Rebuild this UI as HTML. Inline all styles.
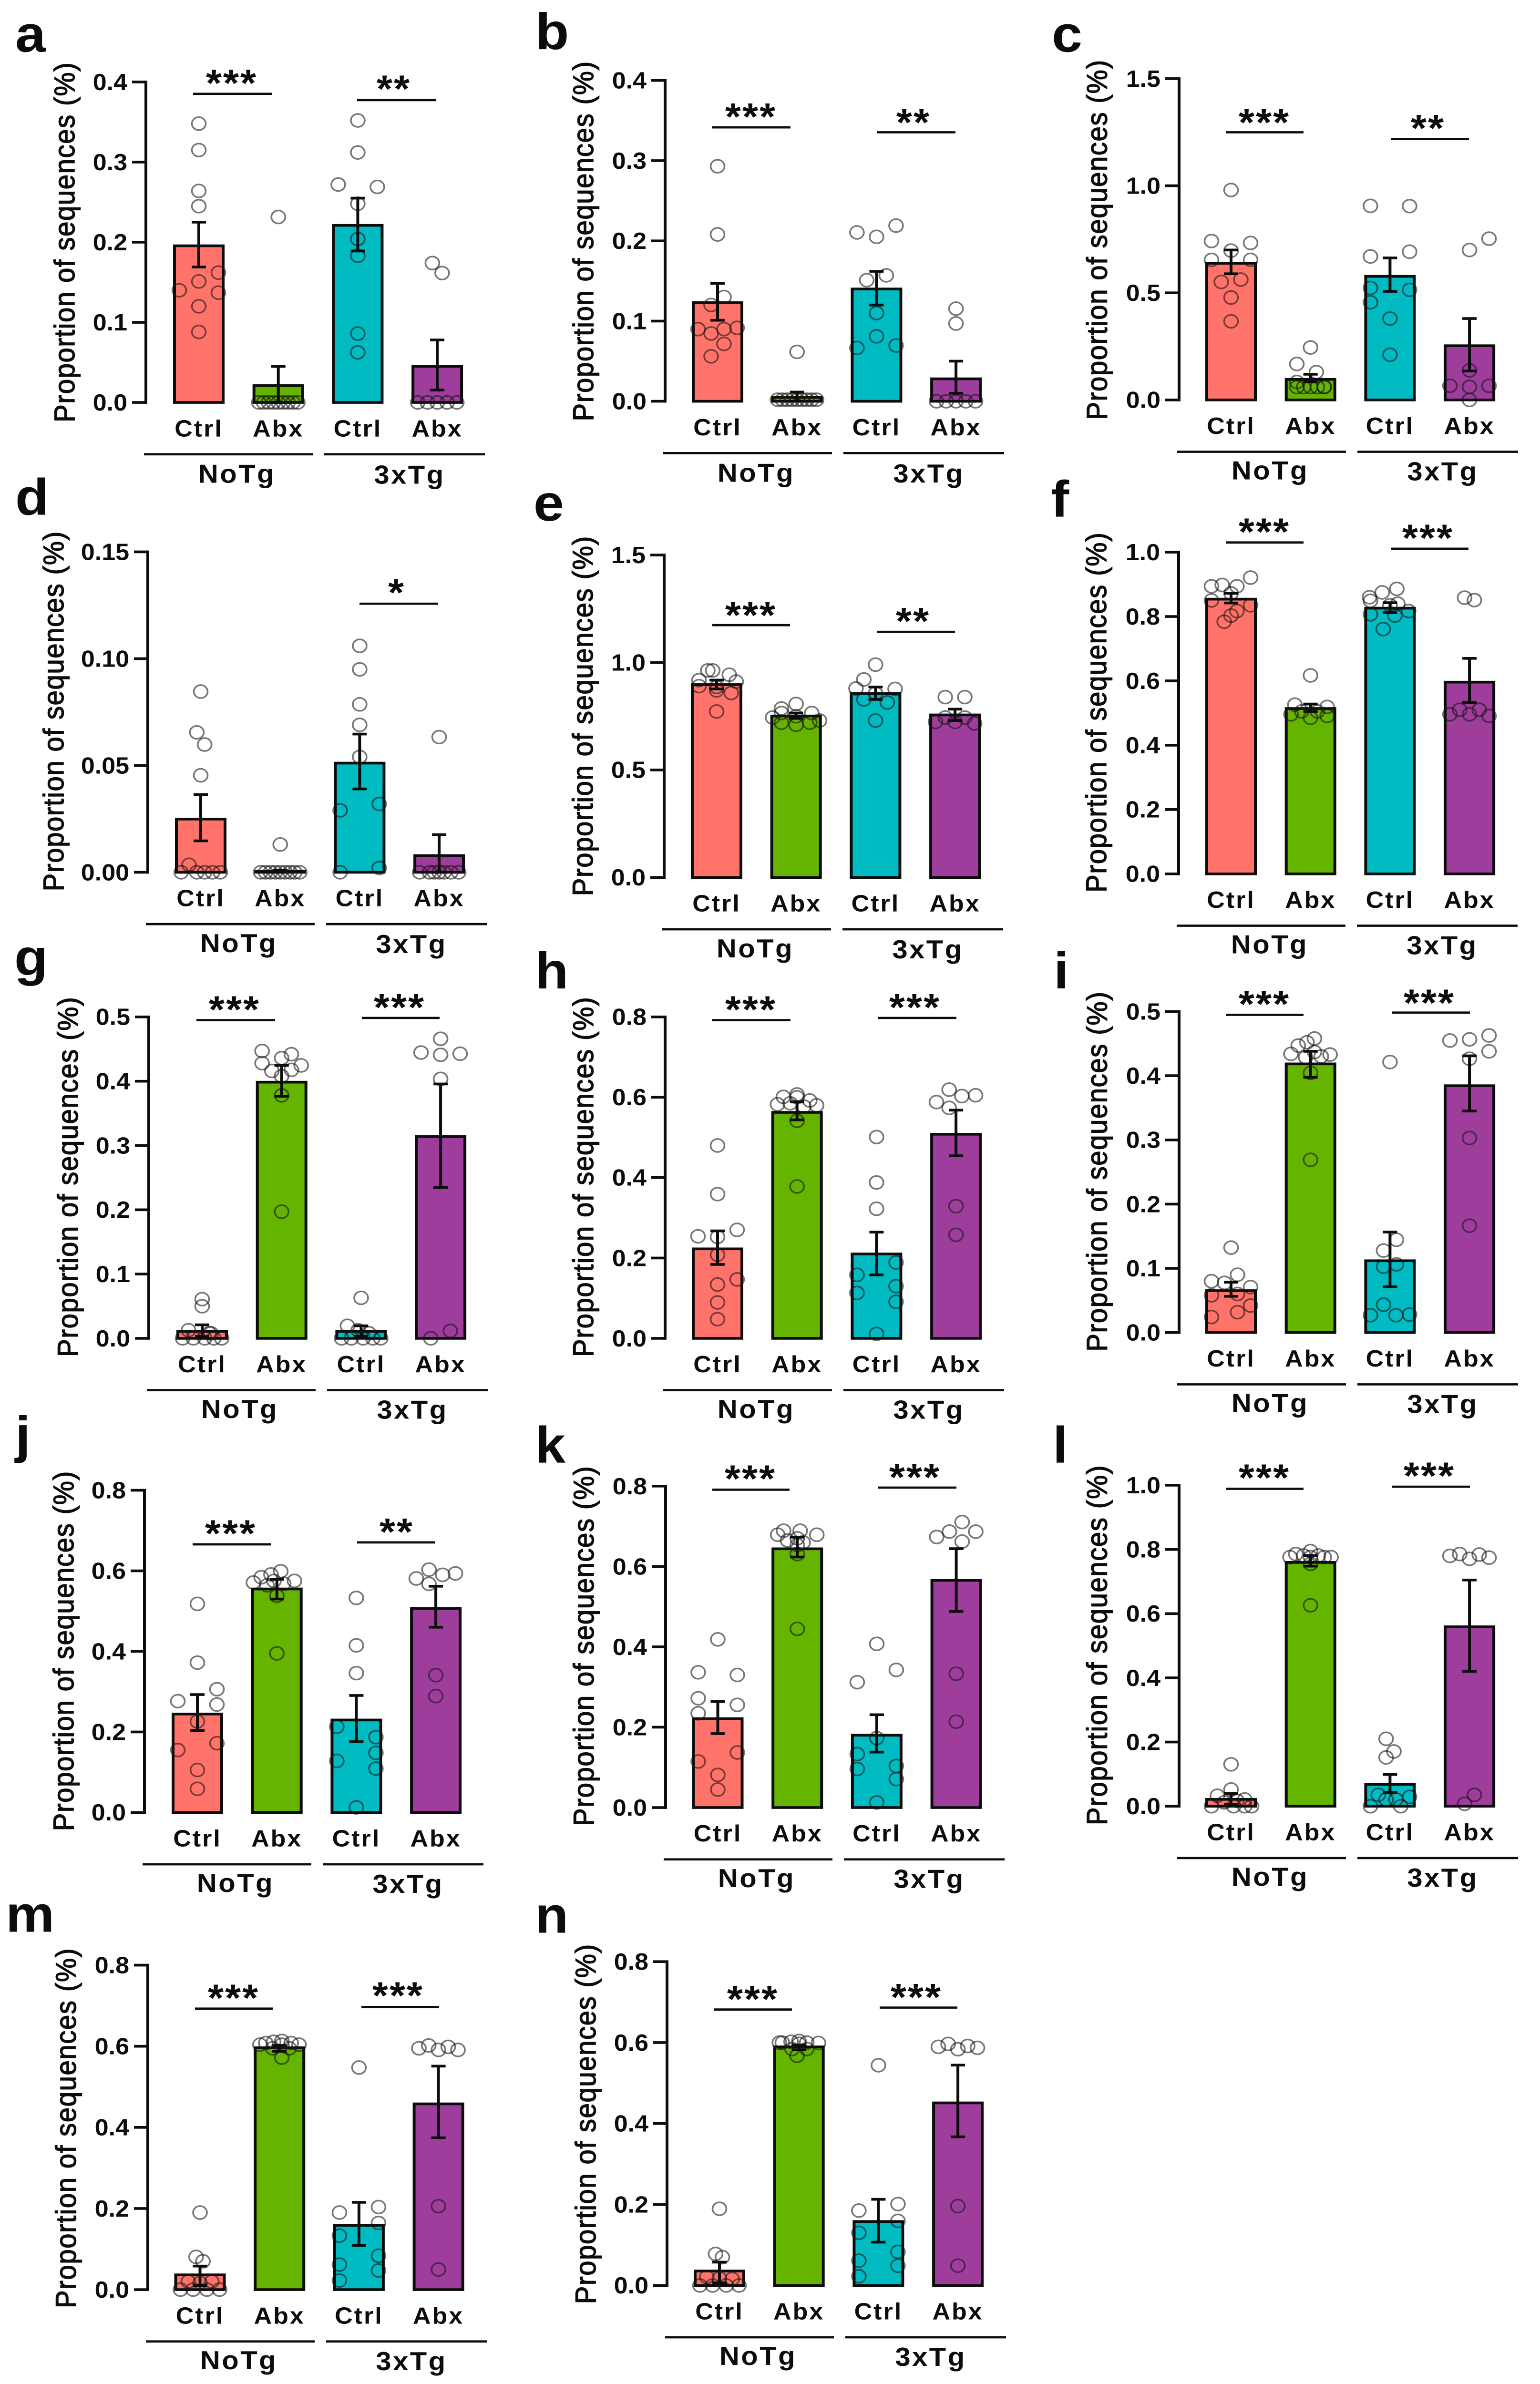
<!DOCTYPE html>
<html lang="en">
<head>
<meta charset="utf-8">
<title>Proportion of sequences by treatment and genotype</title>
<style>
html,body{margin:0;padding:0;background:#fff;width:100%;height:100%;overflow:hidden;}
#figure{display:block;position:fixed;left:0;top:0;width:100vw;height:100vh;}
text{font-family:"Liberation Sans",Arial,sans-serif;fill:#0c0c0c;}
.letter{font-size:115px;font-weight:700;}
.yt{font-size:60px;stroke:#0c0c0c;stroke-width:1.5px;text-anchor:middle;}
.group{font-size:58px;font-weight:700;letter-spacing:3.5px;text-anchor:middle;}
.tick{font-size:52px;font-weight:700;text-anchor:end;}
.cat{font-size:52px;font-weight:700;letter-spacing:3px;text-anchor:middle;}
.star{font-size:85px;font-weight:700;letter-spacing:3px;text-anchor:middle;}
</style>
</head>
<body>
<svg id="figure" xmlns="http://www.w3.org/2000/svg" viewBox="0 0 3230 5335" preserveAspectRatio="none">
<rect width="3230" height="5335" fill="#fff"/>

<text class="letter" x="32" y="116">a</text>
<text class="letter" x="1123" y="110">b</text>
<text class="letter" x="2206" y="116">c</text>
<text class="letter" x="32" y="1152">d</text>
<text class="letter" x="1119" y="1165">e</text>
<text class="letter" x="2204" y="1156">f</text>
<text class="letter" x="30" y="2182">g</text>
<text class="letter" x="1122" y="2212">h</text>
<text class="letter" x="2210" y="2212">i</text>
<text class="letter" x="32" y="3250">j</text>
<text class="letter" x="1122" y="3273">k</text>
<text class="letter" x="2208" y="3273">l</text>
<text class="letter" x="12" y="4323">m</text>
<text class="letter" x="1122" y="4325">n</text>

<g id="panel-a">
<text class="yt" textLength="805" transform="translate(-150,-358) rotate(-90)">Proportion of sequences (%)</text>
<text class="group" x="191" y="180">NoTg</text>
<text class="group" x="553" y="182">3xTg</text>
</g>
<g id="panel-b">
<text class="yt" textLength="805" transform="translate(-151,-358) rotate(-90)">Proportion of sequences (%)</text>
<text class="group" x="191" y="180">NoTg</text>
<text class="group" x="553" y="182">3xTg</text>
</g>
<g id="panel-c">
<text class="yt" textLength="805" transform="translate(-151.5,-358) rotate(-90)">Proportion of sequences (%)</text>
<text class="group" x="191" y="178">NoTg</text>
<text class="group" x="553" y="180">3xTg</text>
</g>
<g id="panel-d">
<text class="yt" textLength="805" transform="translate(-177,-360) rotate(-90)">Proportion of sequences (%)</text>
<text class="group" x="191" y="179">NoTg</text>
<text class="group" x="553" y="181">3xTg</text>
</g>
<g id="panel-e">
<text class="yt" textLength="805" transform="translate(-150,-361) rotate(-90)">Proportion of sequences (%)</text>
<text class="group" x="191" y="179">NoTg</text>
<text class="group" x="553" y="181">3xTg</text>
</g>
<g id="panel-f">
<text class="yt" textLength="805" transform="translate(-152,-361) rotate(-90)">Proportion of sequences (%)</text>
<text class="group" x="191" y="178">NoTg</text>
<text class="group" x="553" y="180">3xTg</text>
</g>
<g id="panel-g">
<text class="yt" textLength="805" transform="translate(-149,-361) rotate(-90)">Proportion of sequences (%)</text>
<text class="group" x="191" y="178">NoTg</text>
<text class="group" x="553" y="180">3xTg</text>
</g>
<g id="panel-h">
<text class="yt" textLength="805" transform="translate(-151,-361) rotate(-90)">Proportion of sequences (%)</text>
<text class="group" x="191" y="178">NoTg</text>
<text class="group" x="553" y="180">3xTg</text>
</g>
<g id="panel-i">
<text class="yt" textLength="805" transform="translate(-151.5,-360) rotate(-90)">Proportion of sequences (%)</text>
<text class="group" x="191" y="178">NoTg</text>
<text class="group" x="553" y="180">3xTg</text>
</g>
<g id="panel-j">
<text class="yt" textLength="805" transform="translate(-149,-361) rotate(-90)">Proportion of sequences (%)</text>
<text class="group" x="191" y="178">NoTg</text>
<text class="group" x="553" y="180">3xTg</text>
</g>
<g id="panel-k">
<text class="yt" textLength="805" transform="translate(-151,-361) rotate(-90)">Proportion of sequences (%)</text>
<text class="group" x="191" y="178">NoTg</text>
<text class="group" x="553" y="180">3xTg</text>
</g>
<g id="panel-l">
<text class="yt" textLength="805" transform="translate(-151.5,-360) rotate(-90)">Proportion of sequences (%)</text>
<text class="group" x="191" y="178">NoTg</text>
<text class="group" x="553" y="180">3xTg</text>
</g>
<g id="panel-m">
<text class="yt" textLength="805" transform="translate(-151,-361) rotate(-90)">Proportion of sequences (%)</text>
<text class="group" x="191" y="178">NoTg</text>
<text class="group" x="553" y="180">3xTg</text>
</g>
<g id="panel-n">
<text class="yt" textLength="805" transform="translate(-150,-361) rotate(-90)">Proportion of sequences (%)</text>
<text class="group" x="191" y="178">NoTg</text>
<text class="group" x="553" y="180">3xTg</text>
</g>
</svg>

<script>
// Shared categories
const categories = ['Ctrl', 'Abx', 'Ctrl', 'Abx'];
const categoryKeys = ['notg-ctrl', 'notg-abx', '3xtg-ctrl', '3xtg-abx'];

// Panel a
const aTicks = ['0.0', '0.1', '0.2', '0.3', '0.4'];
const aMeans = [.1955, .021, .221, .045];
const aHi = [.225, .045, .255, .078];
const aLo = [.169, 0, .189, .0155];
const aNC = [.348, .315, .264, .245, .162, .151, .14, .137, .12, .088];
const aNCx = [0, 0, 0, 0, 1, 0, -1, 1, 0, 0];
const aNA = [.2315, 0, 0, 0, 0, 0, 0, 0, 0, 0];
const aNAx = [0, -1, -.75, -.5, -.25, 0, .25, .5, .75, 1];
const aTC = [.352, .312, .272, .269, .248, .204, .183, .086, .0625];
const aTCx = [0, 0, -1, 1, 0, 0, 0, 0, 0];
const aTA = [.174, .1615, 0, 0, 0, 0, 0];
const aTAx = [-.25, .25, -1, -.5, 0, .5, 1];

// Panel b
const bTicks = ['0.0', '0.1', '0.2', '0.3', '0.4'];
const bMeans = [.123, .005, .14, .028];
const bHi = [.147, .0115, .162, .05];
const bLo = [.101, 0, .12, .01];
const bNC = [.293, .208, .13, .12, .09, .09, .0915, .0845, .0715, .056];
const bNCx = [0, 0, .33, -.33, -1, .33, 1, -.33, .33, -.33];
const bNA = [.0616, .002, .002, .002, .002, .002, .002, .002, .002, .002];
const bNAx = [0, -1, -.75, -.5, -.25, 0, .25, .5, .75, 1];
const bTC = [.219, .2105, .205, .157, .151, .11, .081, .0665, .0695];
const bTCx = [1, -1, 0, .5, -.5, 0, 0, -1, 1];
const bTA = [.1155, .097, 0, 0, 0, 0, 0];
const bTAx = [0, 0, -1, -.5, 0, .5, 1];

// Panel c
const cTicks = ['0.0', '0.5', '1.0', '1.5'];
const cMeans = [.638, .096, .577, .253];
const cHi = [.70, .12, .663, .38];
const cLo = [.589, .085, .507, .135];
const cNC = [.98, .742, .733, .697, .654, .654, .562, .551, .478, .367];
const cNCx = [0, -1, 1, 0, -1, 1, .5, -.5, 0, 0];
const cNA = [.245, .168, .13, .084, .061, .06, .06, .06, .06, .06];
const cNAx = [0, -.7, .3, -.7, .7, -.7, -.35, 0, .35, .7];
const cTC = [.906, .905, .692, .67, .523, .514, .456, .38, .211];
const cTCx = [-1, 1, 1, -1, -1, 1, -1, 0, 0];
const cTA = [.753, .70, .138, .066, .061, .066, 0];
const cTAx = [1, 0, 0, -1, 0, 1, 0];

// Panel d
const dTicks = ['0.00', '0.05', '0.10', '0.15'];
const dMeans = [.0249, .0005, .0511, .0078];
const dHi = [.0364, .001, .0647, .0176];
const dLo = [.0147, 0, .039, 0];
const dNC = [.0846, .0655, .0598, .0454, .0035, 0, 0, 0, 0, 0];
const dNCx = [0, -.2, .2, 0, -.6, -1, -.2, .2, .6, 1];
const dNA = [.013, 0, 0, 0, 0, 0, 0, 0, 0, 0];
const dNAx = [0, -1, -.75, -.5, -.25, 0, .25, .5, .75, 1];
const dTC = [.106, .095, .0786, .069, .054, .032, .029, .002, 0];
const dTCx = [0, 0, 0, 0, 0, 1, -1, 1, -1];
const dTA = [.0633, 0, 0, 0, 0, 0, 0, 0];
const dTAx = [0, -1, -.5, -.25, 0, .25, .6, 1];

// Panel e
const eTicks = ['0.0', '0.5', '1.0', '1.5'];
const eMeans = [.897, .751, .856, .756];
const eHi = [.918, .765, .886, .783];
const eLo = [.877, .74, .828, .73];
const eNC = [.963, .963, .943, .918, .911, .89, .886, .87, .858, .772];
const eNCx = [-.45, -.2, .65, -.9, 1, -.9, 0, 0, .75, 0];
const eNA = [.807, .786, .765, .765, .75, .744, .73, .72, .72, .71];
const eNAx = [0, -.75, .8, -.75, 0, -1.2, 1.2, -.75, .7, 0];
const eTC = [.99, .921, .879, .877, .856, .828, .814, .73];
const eTCx = [0, -.6, -1, 1, 0, -.6, .6, 0];
const eTA = [.839, .839, .744, .744, .7235, .7235, .7166];
const eTAx = [-.5, .5, -.5, .5, -1, 0, 1];

// Panel f
const fTicks = ['0.0', '0.2', '0.4', '0.6', '0.8', '1.0'];
const fMeans = [.854, .514, .826, .596];
const fHi = [.872, .528, .843, .67];
const fLo = [.842, .505, .812, .533];
const fNC = [.921, .898, .894, .894, .872, .85, .835, .817, .803, .784];
const fNCx = [1, -.45, -1, .3, 0, -1, 1, .3, 0, -.35];
const fNA = [.617, .526, .519, .505, .505, .496, .491, .485];
const fNAx = [0, -.8, .85, -.45, .35, -1, .85, 0];
const fTC = [.886, .875, .86, .849, .84, .835, .817, .807, .803, .761];
const fTCx = [.35, -.4, -1.05, -1, .4, 0, .95, -1, .25, -.35];
const fTA = [.8586, .851, .51, .51, .496, .496, .491];
const fTAx = [-.25, .25, -.5, .5, -1, 0, 1];

// Panel g
const gTicks = ['0.0', '0.1', '0.2', '0.3', '0.4', '0.5'];
const gMeans = [.011, .3985, .011, .3138];
const gHi = [.021, .4246, .0195, .3957];
const gLo = [.003, .3766, .003, .2346];
const gNC = [.061, .05, .0126, .008, .008, 0, 0, 0, 0, 0];
const gNCx = [0, 0, -.7, .35, .45, -1, -.45, .13, .6, 1];
const gNA = [.447, .442, .436, .428, .4246, .416, .4176, .408, .378, .197];
const gNAx = [-1, .5, 0, -1, 1, -.5, .5, 0, 0, 0];
const gTC = [.063, .0195, .0126, .008, 0, 0, 0, 0, 0];
const gTCx = [0, -.7, -.15, .4, -1, -.5, .1, .6, 1];
const gTA = [.466, .4446, .441, .4427, .4036, .0116, 0];
const gTAx = [0, -1, 0, 1, 0, .5, -.5];

// Panel h
const hTicks = ['0.0', '0.2', '0.4', '0.6', '0.8'];
const hMeans = [.2227, .5624, .21, .508];
const hHi = [.2674, .5885, .2644, .568];
const hLo = [.184, .5438, .158, .4544];
const hNC = [.48, .359, .27, .254, .2525, .208, .1467, .134, .0894, .0477];
const hNCx = [0, 0, 1, -1, 0, 0, 1, 0, 0, 0];
const hNA = [.607, .601, .6, .592, .5825, .585, .58, .577, .5415, .378];
const hNAx = [0, -.7, 0, .65, -1, -.35, 1, .35, 0, 0];
const hTC = [.501, .388, .3225, .189, .158, .13, .113, .091, .011];
const hTCx = [0, 0, 0, 1, -1, 1, -1, 1, 0];
const hTA = [.619, .605, .603, .588, .5736, .329, .2577];
const hTAx = [-.35, 1, .3, -1, -.35, 0, 0];

// Panel i
const iTicks = ['0.0', '0.1', '0.2', '0.3', '0.4', '0.5'];
const iMeans = [.0652, .4184, .1118, .3844];
const iHi = [.0783, .438, .1566, .431];
const iLo = [.0564, .3975, .0713, .345];
const iNC = [.1323, .09, .08, .0774, .0708, .06, .058, .042, .0317, .0242];
const iNCx = [0, .33, -1, -.33, 1, .33, -1, 1, .33, -1];
const iNA = [.458, .452, .447, .437, .434, .433, .4287, .43, .4045, .269];
const iNAx = [.2, -.18, -.63, .2, -1, 1, -.25, .55, 0, 0];
const iTC = [.4213, .1445, .1277, .1025, .1062, .0433, .027, .027, .028];
const iTCx = [0, .33, -.33, -.33, .33, -.33, -1, .3, 1];
const iTA = [.4627, .4548, .4567, .438, .4264, .303, .1664];
const iTAx = [1, -1, 0, 1, 0, 0, 0];

// Panel j
const jTicks = ['0.0', '0.2', '0.4', '0.6', '0.8'];
const jMeans = [.2444, .555, .2296, .5067];
const jHi = [.2927, .579, .2905, .5617];
const jLo = [.2036, .53, .176, .46];
const jNC = [.518, .372, .306, .2764, .268, .226, .172, .155, .1055, .0587];
const jNCx = [0, 0, 1, -1, 1, 0, 1, -1, 0, 0];
const jNA = [.599, .591, .584, .575, .571, .575, .568, .564, .538, .395];
const jNAx = [.2, -.3, -.8, .9, -1.2, -.15, .35, -.5, 0, 0];
const jTC = [.5327, .415, .346, .213, .187, .148, .128, .109, .0126];
const jTCx = [0, 0, 0, -1, 1, 1, -1, 1, 0];
const jTA = [.603, .5936, .59, .581, .5676, .341, .289];
const jTAx = [-.35, 1, .35, -1, -.35, 0, 0];

// Panel k
const kTicks = ['0.0', '0.2', '0.4', '0.6', '0.8'];
const kMeans = [.2212, .644, .18, .5654];
const kHi = [.2637, .673, .231, .6443];
const kLo = [.184, .6235, .138, .488];
const kNC = [.4186, .3367, .33, .272, .2555, .2346, .137, .1147, .0812, .0447];
const kNCx = [0, -1, 1, -1, 1, -1, 1, -1, 0, 0];
const kNA = [.689, .689, .679, .679, .67, .66, .665, .653, .631, .4447];
const kNAx = [-.7, .15, -1, 1, 0, .3, -.5, 0, 0, 0];
const kTC = [.4074, .3426, .312, .173, .133, .1035, .096, .0708, .0127];
const kTCx = [0, 1, -1, 0, -1, 1, -1, 1, 0];
const kTA = [.7106, .6868, .6868, .6734, .662, .333, .2138];
const kTAx = [.3, 1, -.35, -1, .3, 0, 0];

// Panel l
const lTicks = ['0.0', '0.2', '0.4', '0.6', '0.8', '1.0'];
const lMeans = [.0214, .7596, .068, .559];
const lHi = [.04, .781, .0988, .7046];
const lLo = [.005, .748, .043, .42];
const lNC = [.1305, .052, .0326, .021, .012, .017, 0, 0, 0, 0];
const lNCx = [0, 0, -.7, .7, -.35, .3, -1, .13, .7, 1.05];
const lNA = [.795, .7856, .781, .781, .776, .776, .776, .776, .755, .626];
const lNAx = [0, -.75, -.35, .4, -1.05, .7, 1.05, 0, 0, 0];
const lTC = [.21, .1706, .152, .0354, .029, .021, .021, 0, 0];
const lTCx = [-.2, .2, -.2, -.6, 1, -.2, .3, -1, .55];
const lTA = [.7856, .784, .78, .7745, .7707, .0354, .0075];
const lTAx = [-.5, .5, -1, 1, 0, .25, -.25];

// Panel m
const mTicks = ['0.0', '0.2', '0.4', '0.6', '0.8'];
const mMeans = [.0364, .5964, .1585, .458];
const mHi = [.058, .602, .2153, .551];
const mLo = [.01, .5876, .109, .3745];
const mNC = [.19, .0807, .07, .02, .02, .017, 0, 0, 0, 0];
const mNCx = [0, -.2, .15, -.6, .6, 0, -1, -.35, .35, 1];
const mNA = [.613, .611, .608, .608, .604, .604, .604, .595, .595, .572];
const mNAx = [.12, -.3, -.7, .6, -1, 1, .12, -.35, .5, .12];
const mTC = [.5476, .2036, .19, .1644, .133, .0836, .0618, .0473, .0225];
const mTCx = [0, 1, -1, 1, -1, 1, -1, 1, -1];
const mTA = [.602, .5985, .595, .591, .591, .2058, .0495];
const mTAx = [-.5, .5, -1, 1, 0, 0, 0];

// Panel n
const nTicks = ['0.0', '0.2', '0.4', '0.6', '0.8'];
const nMeans = [.0357, .5894, .158, .451];
const nHi = [.0576, .594, .2128, .5443];
const nLo = [.0066, .582, .107, .3672];
const nNC = [.1894, .078, .07, .021, .016, .0175, 0, 0, 0, 0];
const nNCx = [0, -.2, .15, -.65, .65, 0, -1, -.35, .35, 1];
const nNA = [.604, .602, .6, .6, .599, .6, .597, .584, .584, .5675];
const nNAx = [0, -.4, -.85, .4, 1, -1, 0, -.35, .4, -.1];
const nTC = [.544, .2011, .185, .1596, .13, .083, .0612, .0488, .0226];
const nTCx = [0, 1, -1, 1, -1, 1, -1, 1, -1];
const nTA = [.5967, .5916, .5894, .587, .5836, .196, .0488];
const nTAx = [-.5, .5, -1, 1, 0, 0, 0];

const panels = [
  {id: 'a', ticks: aTicks, means: aMeans, hi: aHi, lo: aLo, pts: [aNC, aNA, aTC, aTA], jit: [aNCx, aNAx, aTCx, aTAx]},
  {id: 'b', ticks: bTicks, means: bMeans, hi: bHi, lo: bLo, pts: [bNC, bNA, bTC, bTA], jit: [bNCx, bNAx, bTCx, bTAx]},
  {id: 'c', ticks: cTicks, means: cMeans, hi: cHi, lo: cLo, pts: [cNC, cNA, cTC, cTA], jit: [cNCx, cNAx, cTCx, cTAx]},
  {id: 'd', ticks: dTicks, means: dMeans, hi: dHi, lo: dLo, pts: [dNC, dNA, dTC, dTA], jit: [dNCx, dNAx, dTCx, dTAx]},
  {id: 'e', ticks: eTicks, means: eMeans, hi: eHi, lo: eLo, pts: [eNC, eNA, eTC, eTA], jit: [eNCx, eNAx, eTCx, eTAx]},
  {id: 'f', ticks: fTicks, means: fMeans, hi: fHi, lo: fLo, pts: [fNC, fNA, fTC, fTA], jit: [fNCx, fNAx, fTCx, fTAx]},
  {id: 'g', ticks: gTicks, means: gMeans, hi: gHi, lo: gLo, pts: [gNC, gNA, gTC, gTA], jit: [gNCx, gNAx, gTCx, gTAx]},
  {id: 'h', ticks: hTicks, means: hMeans, hi: hHi, lo: hLo, pts: [hNC, hNA, hTC, hTA], jit: [hNCx, hNAx, hTCx, hTAx]},
  {id: 'i', ticks: iTicks, means: iMeans, hi: iHi, lo: iLo, pts: [iNC, iNA, iTC, iTA], jit: [iNCx, iNAx, iTCx, iTAx]},
  {id: 'j', ticks: jTicks, means: jMeans, hi: jHi, lo: jLo, pts: [jNC, jNA, jTC, jTA], jit: [jNCx, jNAx, jTCx, jTAx]},
  {id: 'k', ticks: kTicks, means: kMeans, hi: kHi, lo: kLo, pts: [kNC, kNA, kTC, kTA], jit: [kNCx, kNAx, kTCx, kTAx]},
  {id: 'l', ticks: lTicks, means: lMeans, hi: lHi, lo: lLo, pts: [lNC, lNA, lTC, lTA], jit: [lNCx, lNAx, lTCx, lTAx]},
  {id: 'm', ticks: mTicks, means: mMeans, hi: mHi, lo: mLo, pts: [mNC, mNA, mTC, mTA], jit: [mNCx, mNAx, mTCx, mTAx]},
  {id: 'n', ticks: nTicks, means: nMeans, hi: nHi, lo: nLo, pts: [nNC, nNA, nTC, nTA], jit: [nNCx, nNAx, nTCx, nTAx]}
];

// Layout (frame geometry per panel, separate from the data above)
const frames = {
  a: {x: 306, y0: 900.6, top: 183.4, cx: 111, sig: [[405, 570, 210, '***', 486, 167], [749, 914, 224, '**', 826, 180]]},
  b: {x: 1395, y0: 898, top: 180, cx: 110, sig: [[1493, 1658, 285, '***', 1575, 242], [1839, 2004, 296, '**', 1916, 255]]},
  c: {x: 2473, y0: 895, top: 176, cx: 109, sig: [[2571, 2734, 296, '***', 2652, 255], [2917, 3081, 311, '**', 2995, 268]]},
  d: {x: 310, y0: 1952, top: 1235, cx: 111, sig: [[754, 919, 1351, '*', 832, 1307]]},
  e: {x: 1393, y0: 1963.6, top: 1242, cx: 110, sig: [[1494, 1657, 1399, '***', 1575, 1358], [1840, 2003, 1414, '**', 1915, 1371]]},
  f: {x: 2472, y0: 1955.6, top: 1235.7, cx: 110, sig: [[2571, 2734, 1214, '***', 2652, 1171], [2917, 3080, 1228, '***', 2995, 1185]]},
  g: {x: 312, y0: 2995, top: 2275.7, cx: 112, sig: [[412, 577, 2283, '***', 492, 2240], [759, 922, 2278, '***', 838, 2235.5]]},
  h: {x: 1395, y0: 2995, top: 2275.7, cx: 110, sig: [[1493, 1658, 2283, '***', 1575, 2240], [1841, 2006, 2278, '***', 1919, 2235.5]]},
  i: {x: 2473, y0: 2982, top: 2263.6, cx: 109, sig: [[2571, 2734, 2271, '***', 2652, 2228], [2920, 3083, 2266, '***', 2998, 2225]]},
  j: {x: 303, y0: 4056, top: 3335, cx: 111, sig: [[404, 568, 3456, '***', 484, 3413], [749, 913, 3451.6, '**', 832, 3409]]},
  k: {x: 1396, y0: 4045, top: 3325.7, cx: 109.5, sig: [[1494, 1656, 3333.7, '***', 1574, 3290], [1842, 2006, 3329, '***', 1919, 3287]]},
  l: {x: 2473, y0: 4042, top: 3323.7, cx: 109, sig: [[2571, 2734, 3331.7, '***', 2652, 3288], [2920, 3083, 3327, '***', 2998, 3283.5]]},
  m: {x: 310, y0: 5123.8, top: 4397.7, cx: 109.5, sig: [[409, 572, 4495, '***', 490, 4452], [758, 921, 4491.4, '***', 835, 4446.5]]},
  n: {x: 1399, y0: 5114.5, top: 4389.8, cx: 110, sig: [[1498, 1661, 4497, '***', 1579, 4455], [1845, 2008, 4492.7, '***', 1922, 4450.5]]}
};

const BAR_COLORS = ['#FF736A', '#64B400', '#00BBC2', '#9E3D9C'];
const INK = '#0c0c0c';
const BAR_STEP = 166.7;
const BAR_WIDTH = 102;
const SWARM_UNIT = 41;
const SVG_NS = 'http://www.w3.org/2000/svg';

function make(parent, tag, attrs, text) {
  const node = document.createElementNS(SVG_NS, tag);
  for (const k in attrs) node.setAttribute(k, attrs[k]);
  if (text !== undefined) node.textContent = text;
  parent.appendChild(node);
  return node;
}

function drawPanel(panel) {
  const f = frames[panel.id];
  const g = document.getElementById('panel-' + panel.id);
  g.setAttribute('transform', 'translate(' + f.x + ',' + f.y0 + ')');

  const tickValues = panel.ticks.map(parseFloat);
  const yMax = tickValues[tickValues.length - 1];
  const yScale = function (v) { return -v / yMax * (f.y0 - f.top); };
  const xBand = function (i) { return f.cx + i * BAR_STEP; };

  const axis = make(g, 'line', {x1: 0, x2: 0, y1: 3, y2: yScale(yMax) - 3, stroke: INK, 'stroke-width': 6});
  
  

  panel.ticks.forEach(function (label, t) {
    const y = yScale(tickValues[t]);
    const mark = make(g, 'line', {x1: -29, x2: 0, y1: y, y2: y, stroke: INK, 'stroke-width': 6});
    
    
    const tickText = make(g, 'text', {class: 'tick', x: -39, y: y + 18}, label);
    
    
  });

  categories.forEach(function (name, i) {
    const cx = xBand(i);
    const yTop = yScale(panel.means[i]);
    const bar = make(g, 'rect', {x: cx - BAR_WIDTH / 2, y: yTop, width: BAR_WIDTH, height: -yTop, fill: BAR_COLORS[i], stroke: INK, 'stroke-width': 6});
    
    
    const catText = make(g, 'text', {class: 'cat', x: cx, y: 76}, name);
    
    
  });

  categories.forEach(function (name, i) {
    const cx = xBand(i);
    panel.pts[i].forEach(function (v, p) {
      const dot = make(g, 'circle', {cx: cx + panel.jit[i][p] * SWARM_UNIT, cy: yScale(v), r: 14.5, fill: 'none', stroke: 'rgba(20,20,20,.58)', 'stroke-width': 3.6});
      
      
    });
  });

  categories.forEach(function (name, i) {
    const cx = xBand(i);
    const yHi = yScale(panel.hi[i]);
    const yLo = yScale(panel.lo[i]);
    const stem = make(g, 'line', {x1: cx, x2: cx, y1: yHi, y2: yLo, stroke: INK, 'stroke-width': 6});
    
    
    const capHi = make(g, 'line', {x1: cx - 15, x2: cx + 15, y1: yHi, y2: yHi, stroke: INK, 'stroke-width': 6});
    
    
    const capLo = make(g, 'line', {x1: cx - 15, x2: cx + 15, y1: yLo, y2: yLo, stroke: INK, 'stroke-width': 6});
    
    
  });

  const lineNoTg = make(g, 'line', {x1: -4, x2: 350, y1: 116, y2: 116, stroke: INK, 'stroke-width': 5});
  
  
  const line3xTg = make(g, 'line', {x1: 374, x2: 711, y1: 116, y2: 116, stroke: INK, 'stroke-width': 5});
  
  

  f.sig.forEach(function (s) {
    const sigLine = make(g, 'line', {x1: s[0] - f.x, x2: s[1] - f.x, y1: s[2] - f.y0, y2: s[2] - f.y0, stroke: INK, 'stroke-width': 5});
    
    
    const sigStars = make(g, 'text', {class: 'star', x: s[4] - f.x, y: s[5] - f.y0 + 48}, s[3]);
    
    
  });
}

panels.forEach(drawPanel);
</script>
</body>
</html>
